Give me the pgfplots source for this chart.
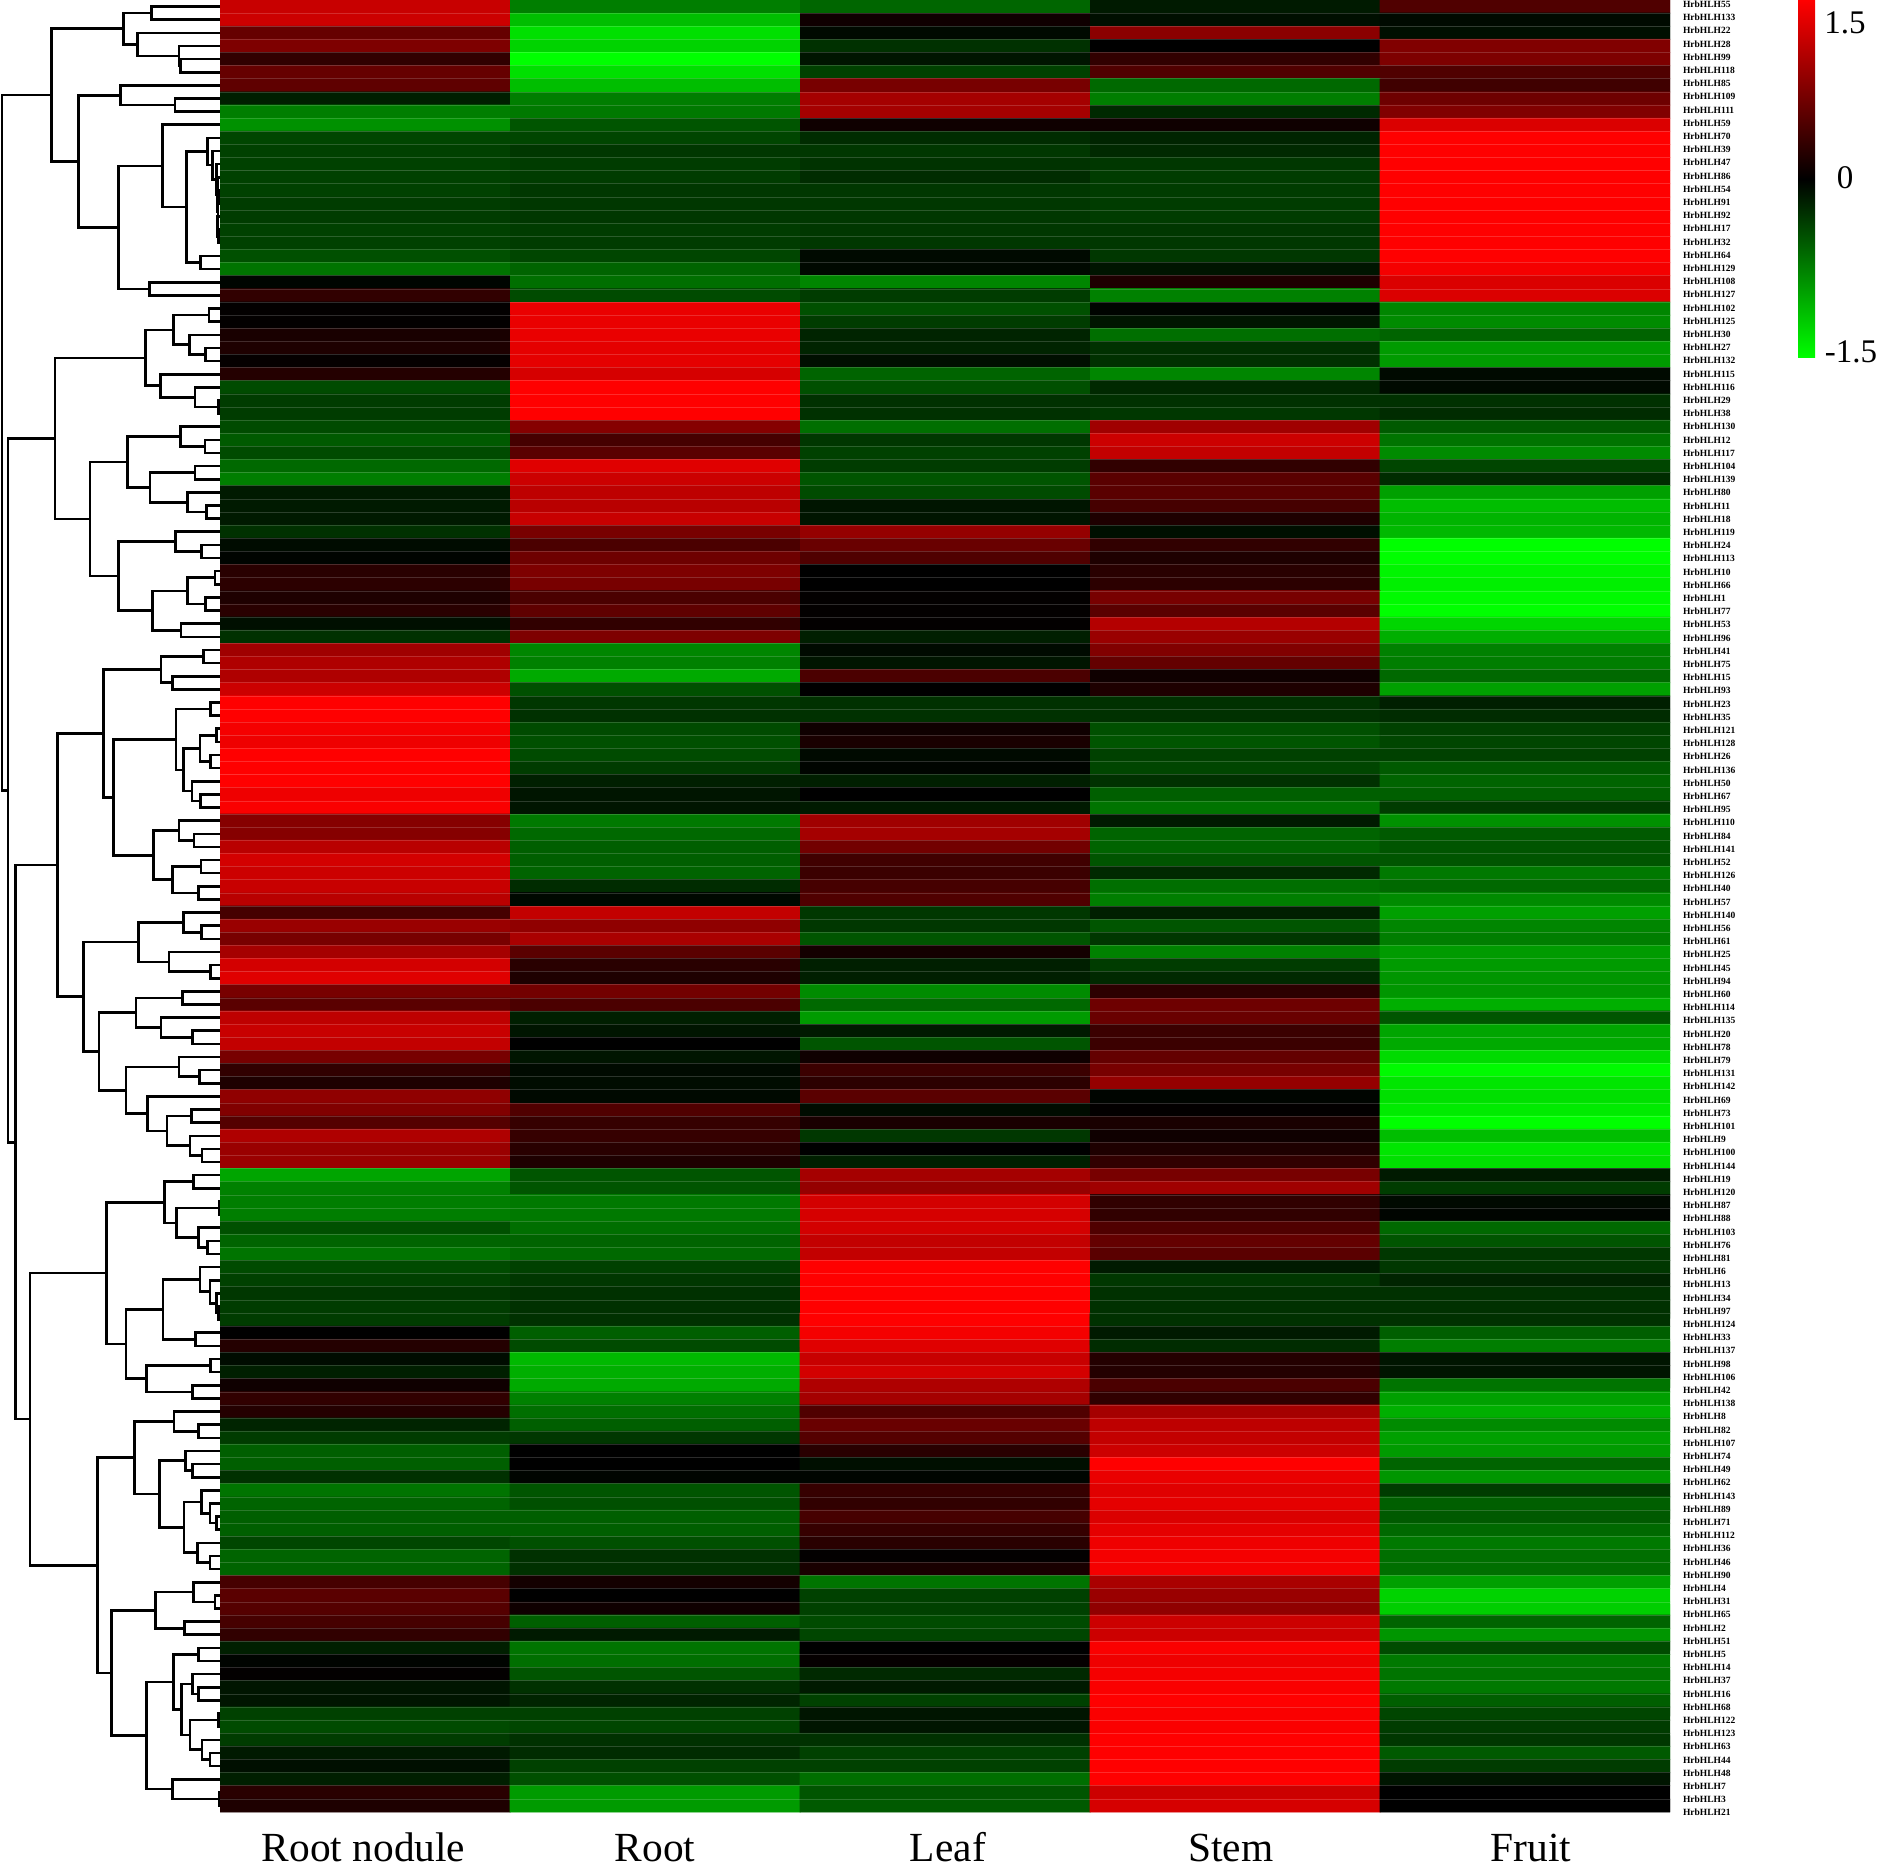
\documentclass[border=0pt]{standalone}
\usepackage{fontspec}
\setmainfont{Liberation Serif}
\usepackage{pgfplots}
\pgfplotsset{compat=1.18}

\begin{document}
\begin{tikzpicture}
% 1 px of the reference = 0.5pt
\useasboundingbox (0pt,0pt) rectangle (939.5pt,932.5pt);

% heat map, values row by row (Root nodule, Root, Leaf, Stem, Fruit)
\begin{axis}[
  at={(110pt,26.5pt)}, anchor=south west,
  scale only axis, width=725pt, height=906pt,
  xmin=-0.5, xmax=4.5, ymin=-0.5, ymax=137.5, y dir=reverse,
  colormap={redgreen}{rgb255=(0,255,0) rgb255=(0,0,0) rgb255=(255,0,0)},
  point meta min=-1.5, point meta max=1.5,
  axis on top, axis line style={draw=none},
  tick style={draw=none}, major tick length=0pt, minor tick length=0pt,
  xtick={-0.005,1.0,2.01,2.986,4.02},
  xticklabels={Root nodule,Root,Leaf,Stem,Fruit},
  xticklabel pos=lower,
  xticklabel style={font=\fontsize{20.7}{21}\selectfont, anchor=base, inner sep=0pt, yshift=-24.5pt},
  ytick={0,...,137}, yticklabels={},
  minor y tick num=1, yminorgrids,
  minor grid style={white, opacity=0.17, line width=0.35pt},
  colorbar,
  colorbar style={
    at={(1.0883,1)}, anchor=north west,
    width=8.5pt, height=179pt, y dir=normal,
    axis line style={draw=none}, tick style={draw=none},
    major tick length=0pt,
    minor y tick num=0, yminorgrids=false,
    ytick={1.31,0.0084,-1.45}, yticklabels={1.5,0,\hspace*{6pt}-1.5},
    yticklabel pos=right,
    yticklabel style={font=\fontsize{16.5}{17}\selectfont, anchor=center, inner sep=0pt, xshift=15pt},
  },
]
\addplot [matrix plot*, mesh/cols=5, point meta=explicit]
  table [row sep=\\, x expr={mod(\coordindex,5)}, y expr={floor((\coordindex+0.5)/5)}, meta=v] {
v\\
1.18\\-.74\\-.6\\-.15\\.47\\
1.2\\-1.12\\.09\\-.09\\-.06\\
.6\\-1.32\\-.06\\.82\\-.09\\
.74\\-1.24\\-.29\\0\\.76\\
.29\\-1.5\\-.12\\.29\\.74\\
.6\\-1.32\\-.38\\.47\\.47\\
.56\\-1.12\\.71\\-.62\\.38\\
-.18\\-.74\\.97\\-.74\\.65\\
-.74\\-.71\\.97\\-.24\\.76\\
-.85\\-.5\\.09\\.09\\1.29\\
-.41\\-.41\\-.26\\-.21\\1.5\\
-.38\\-.32\\-.32\\-.24\\1.5\\
-.38\\-.35\\-.3\\-.32\\1.5\\
-.38\\-.35\\-.26\\-.35\\1.5\\
-.38\\-.32\\-.32\\-.35\\1.5\\
-.35\\-.32\\-.32\\-.35\\1.5\\
-.35\\-.32\\-.32\\-.35\\1.5\\
-.38\\-.35\\-.32\\-.32\\1.5\\
-.38\\-.35\\-.32\\-.32\\1.5\\
-.47\\-.41\\-.06\\-.32\\1.5\\
-.68\\-.59\\-.05\\-.12\\1.44\\
-.03\\-.65\\-.79\\.18\\1.29\\
.29\\-.44\\-.35\\-.76\\1.29\\
.02\\1.38\\-.47\\-.02\\-.79\\
.02\\1.38\\-.35\\-.12\\-.82\\
.15\\1.38\\-.21\\-.65\\-.59\\
.18\\1.35\\-.21\\-.29\\-.91\\
.03\\1.35\\-.09\\-.29\\-.91\\
.21\\1.26\\-.59\\-.79\\-.06\\
-.44\\1.5\\-.47\\-.24\\-.06\\
-.35\\1.5\\-.29\\-.29\\-.29\\
-.35\\1.5\\-.29\\-.32\\-.26\\
-.44\\.79\\-.65\\.94\\-.53\\
-.53\\.41\\-.32\\1.2\\-.68\\
-.44\\.53\\-.38\\1.15\\-.82\\
-.62\\1.32\\-.35\\.29\\-.41\\
-.74\\1.2\\-.5\\.53\\-.26\\
-.15\\1.12\\-.44\\.53\\-.94\\
-.15\\1.09\\-.12\\.41\\-1.12\\
-.15\\1.18\\-.12\\.18\\-1.06\\
-.29\\.71\\.88\\-.09\\-1.09\\
-.07\\.44\\.62\\.29\\-1.5\\
-.02\\.65\\.47\\.18\\-1.5\\
.24\\.74\\0\\.24\\-1.44\\
.26\\.71\\0\\.26\\-1.41\\
.18\\.44\\.02\\.71\\-1.47\\
.24\\.56\\.02\\.53\\-1.5\\
-.09\\.29\\.02\\1.06\\-1.26\\
-.29\\.74\\-.18\\.91\\-1.03\\
.94\\-.79\\-.06\\.76\\-.76\\
1.03\\-.76\\-.12\\.59\\-.74\\
1.03\\-1\\.44\\.09\\-.62\\
1.2\\-.47\\0\\.18\\-.94\\
1.5\\-.32\\-.29\\-.29\\-.18\\
1.5\\-.29\\-.29\\-.29\\-.26\\
1.44\\-.44\\.09\\-.47\\-.38\\
1.41\\-.47\\.15\\-.5\\-.41\\
1.5\\-.44\\-.06\\-.38\\-.38\\
1.5\\-.35\\-.03\\-.41\\-.53\\
1.5\\-.18\\-.18\\-.29\\-.59\\
1.41\\-.12\\0\\-.56\\-.56\\
1.47\\-.12\\-.15\\-.68\\-.35\\
.79\\-.71\\.94\\-.15\\-.85\\
.79\\-.62\\.97\\-.59\\-.53\\
1.09\\-.56\\.68\\-.59\\-.5\\
1.24\\-.56\\.38\\-.5\\-.5\\
1.2\\-.59\\.35\\-.24\\-.71\\
1.18\\-.26\\.41\\-.65\\-.62\\
1.09\\-.05\\.47\\-.74\\-.82\\
.41\\1.15\\-.32\\-.18\\-.94\\
.91\\.85\\-.32\\-.5\\-.79\\
.71\\1\\-.5\\-.32\\-.74\\
.97\\.53\\.12\\-.76\\-.91\\
1.24\\.24\\-.18\\-.35\\-.91\\
1.32\\.18\\-.18\\-.24\\-.88\\
.71\\.68\\-.82\\.26\\-.88\\
.53\\.44\\-.62\\.65\\-1.03\\
1.12\\-.18\\-.91\\.62\\-.5\\
1.18\\-.12\\-.15\\.35\\-.97\\
1.15\\0\\-.5\\.35\\-1\\
.71\\-.12\\.09\\.59\\-1.29\\
.29\\-.06\\.35\\.71\\-1.47\\
.18\\-.07\\.26\\.88\\-1.35\\
.85\\-.05\\.53\\-.03\\-1.32\\
.76\\.47\\-.07\\.02\\-1.38\\
.5\\.32\\.15\\.15\\-1.5\\
1.03\\.32\\-.32\\.09\\-1.12\\
.91\\.24\\0\\.18\\-1.35\\
.91\\.18\\-.18\\.29\\-1.32\\
-.97\\-.5\\.97\\.71\\-.15\\
-.76\\-.5\\.88\\.94\\-.35\\
-.74\\-.71\\1.24\\.29\\-.06\\
-.74\\-.71\\1.26\\.29\\-.03\\
-.47\\-.65\\1.24\\.47\\-.62\\
-.59\\-.59\\1.15\\.59\\-.5\\
-.68\\-.62\\1.15\\.53\\-.32\\
-.44\\-.38\\1.5\\-.15\\-.32\\
-.38\\-.32\\1.5\\-.32\\-.21\\
-.32\\-.29\\1.5\\-.29\\-.29\\
-.35\\-.29\\1.5\\-.29\\-.29\\
-.35\\-.29\\1.5\\-.29\\-.29\\
0\\-.56\\1.44\\-.15\\-.56\\
.21\\-.44\\1.32\\-.26\\-.74\\
-.07\\-1.09\\1.18\\.21\\-.12\\
-.18\\-1.03\\1.24\\.21\\-.12\\
.09\\-1\\1.03\\.44\\-.68\\
.29\\-.76\\.97\\.29\\-.94\\
.21\\-.65\\.47\\.97\\-1.03\\
-.21\\-.56\\.62\\1.12\\-.82\\
-.35\\-.32\\.5\\1.15\\-.94\\
-.56\\0\\.24\\1.2\\-.91\\
-.56\\0\\-.09\\1.5\\-.59\\
-.29\\-.03\\-.03\\1.38\\-.88\\
-.68\\-.5\\.32\\1.32\\-.35\\
-.59\\-.47\\.29\\1.35\\-.56\\
-.56\\-.56\\.41\\1.29\\-.53\\
-.56\\-.56\\.32\\1.35\\-.62\\
-.41\\-.47\\.24\\1.41\\-.71\\
-.59\\-.29\\.02\\1.44\\-.65\\
-.59\\-.29\\.15\\1.44\\-.65\\
.41\\.12\\-.68\\1\\-.94\\
.53\\0\\-.38\\.91\\-1.24\\
.5\\.09\\-.38\\.85\\-1.21\\
.41\\-.56\\-.44\\1.2\\-.59\\
.29\\-.15\\-.41\\1.2\\-.88\\
-.18\\-.68\\0\\1.47\\-.44\\
-.02\\-.65\\.03\\1.41\\-.71\\
.02\\-.5\\-.24\\1.44\\-.68\\
-.12\\-.29\\-.15\\1.47\\-.71\\
-.12\\-.21\\-.38\\1.5\\-.56\\
-.38\\-.38\\-.12\\1.47\\-.41\\
-.44\\-.41\\-.12\\1.47\\-.35\\
-.35\\-.29\\-.29\\1.5\\-.32\\
-.15\\-.26\\-.38\\1.5\\-.53\\
-.09\\-.38\\-.38\\1.5\\-.35\\
-.18\\-.47\\-.65\\1.5\\-.12\\
.24\\-.91\\-.5\\1.2\\0\\
.18\\-.91\\-.53\\1.26\\0\\
};
\end{axis}

% gene names: their spacing in the reference is a little wider than the rows
\begin{axis}[
  at={(110pt,26.15pt)}, anchor=south west,
  scale only axis, width=725pt, height=904.2pt,
  xmin=0, xmax=1, ymin=0, ymax=137, y dir=reverse,
  axis line style={draw=none}, tick style={draw=none},
  major tick length=0pt, xtick=\empty,
  ytick={0,...,137}, yticklabel pos=right,
  yticklabel style={font=\fontsize{4.75}{6}\selectfont\bfseries, anchor=west, inner sep=0pt, xshift=6.3pt},
  yticklabels={HrbHLH55,HrbHLH133,HrbHLH22,HrbHLH28,HrbHLH99,HrbHLH118,HrbHLH85,HrbHLH109,HrbHLH111,HrbHLH59,HrbHLH70,HrbHLH39,HrbHLH47,HrbHLH86,HrbHLH54,HrbHLH91,HrbHLH92,HrbHLH17,HrbHLH32,HrbHLH64,HrbHLH129,HrbHLH108,HrbHLH127,HrbHLH102,HrbHLH125,HrbHLH30,HrbHLH27,HrbHLH132,HrbHLH115,HrbHLH116,HrbHLH29,HrbHLH38,HrbHLH130,HrbHLH12,HrbHLH117,
  HrbHLH104,HrbHLH139,HrbHLH80,HrbHLH11,HrbHLH18,HrbHLH119,HrbHLH24,HrbHLH113,HrbHLH10,HrbHLH66,HrbHLH1,HrbHLH77,HrbHLH53,HrbHLH96,HrbHLH41,HrbHLH75,HrbHLH15,HrbHLH93,HrbHLH23,HrbHLH35,HrbHLH121,HrbHLH128,HrbHLH26,HrbHLH136,HrbHLH50,HrbHLH67,HrbHLH95,HrbHLH110,HrbHLH84,HrbHLH141,HrbHLH52,HrbHLH126,HrbHLH40,HrbHLH57,HrbHLH140,
  HrbHLH56,HrbHLH61,HrbHLH25,HrbHLH45,HrbHLH94,HrbHLH60,HrbHLH114,HrbHLH135,HrbHLH20,HrbHLH78,HrbHLH79,HrbHLH131,HrbHLH142,HrbHLH69,HrbHLH73,HrbHLH101,HrbHLH9,HrbHLH100,HrbHLH144,HrbHLH19,HrbHLH120,HrbHLH87,HrbHLH88,HrbHLH103,HrbHLH76,HrbHLH81,HrbHLH6,HrbHLH13,HrbHLH34,HrbHLH97,HrbHLH124,HrbHLH33,HrbHLH137,HrbHLH98,HrbHLH106,
  HrbHLH42,HrbHLH138,HrbHLH8,HrbHLH82,HrbHLH107,HrbHLH74,HrbHLH49,HrbHLH62,HrbHLH143,HrbHLH89,HrbHLH71,HrbHLH112,HrbHLH36,HrbHLH46,HrbHLH90,HrbHLH4,HrbHLH31,HrbHLH65,HrbHLH2,HrbHLH51,HrbHLH5,HrbHLH14,HrbHLH37,HrbHLH16,HrbHLH68,HrbHLH122,HrbHLH123,HrbHLH63,HrbHLH44,HrbHLH48,HrbHLH7,HrbHLH3,HrbHLH21},
]
\end{axis}

% dendrogram, x in reference pixels, y in row numbers
\begin{axis}[
  at={(0pt,26.5pt)}, anchor=south west,
  scale only axis, width=110pt, height=906pt,
  xmin=0, xmax=220, ymin=-0.5, ymax=137.5, y dir=reverse,
  hide axis, clip=false, unbounded coords=jump,
]
\addplot [black, line width=1.3pt, no markers] coordinates {
(220,0)(151.7,0)(151.7,1)(220,1)(nan,nan)
(220,4)(180.3,4)(180.3,5)(220,5)(nan,nan)
(220,3)(179,3)(179,4.5)(180.3,4.5)(nan,nan)
(220,2)(137.3,2)(137.3,3.75)(179,3.75)(nan,nan)
(151.7,.5)(123.3,.5)(123.3,2.875)(137.3,2.875)(nan,nan)
(220,7)(175,7)(175,8)(220,8)(nan,nan)
(220,6)(120.7,6)(120.7,7.5)(175,7.5)(nan,nan)
(220,21)(149.3,21)(149.3,22)(220,22)(nan,nan)
(220,19)(200.7,19)(200.7,20)(220,20)(nan,nan)
(220,17)(218.7,17)(218.7,18)(220,18)(nan,nan)
(220,16)(217.7,16)(217.7,17.5)(218.7,17.5)(nan,nan)
(220,14)(218.3,14)(218.3,15)(220,15)(nan,nan)
(218.3,14.5)(218,14.5)(218,16.75)(217.7,16.75)(nan,nan)
(220,13)(217.3,13)(217.3,15.625)(218,15.625)(nan,nan)
(220,12)(216.7,12)(216.7,14.31)(217.3,14.31)(nan,nan)
(220,11)(212.3,11)(212.3,13.16)(216.7,13.16)(nan,nan)
(220,10)(207.3,10)(207.3,12.08)(212.3,12.08)(nan,nan)
(207.3,11.04)(186.7,11.04)(186.7,19.5)(200.7,19.5)(nan,nan)
(220,9)(162.7,9)(162.7,15.27)(186.7,15.27)(nan,nan)
(162.7,12.14)(118.3,12.14)(118.3,21.5)(149.3,21.5)(nan,nan)
(120.7,6.75)(78.3,6.75)(78.3,16.82)(118.3,16.82)(nan,nan)
(123.3,1.69)(51.7,1.69)(51.7,11.78)(78.3,11.78)(nan,nan)
(220,23)(209,23)(209,24)(220,24)(nan,nan)
(220,26)(205.7,26)(205.7,27)(220,27)(nan,nan)
(220,25)(189.3,25)(189.3,26.5)(205.7,26.5)(nan,nan)
(209,23.5)(173.3,23.5)(173.3,25.75)(189.3,25.75)(nan,nan)
(220,30)(218.3,30)(218.3,31)(220,31)(nan,nan)
(220,29)(195,29)(195,30.5)(218.3,30.5)(nan,nan)
(220,28)(160.3,28)(160.3,29.75)(195,29.75)(nan,nan)
(173.3,24.63)(145.7,24.63)(145.7,28.88)(160.3,28.88)(nan,nan)
(220,33)(205,33)(205,34)(220,34)(nan,nan)
(220,32)(180.3,32)(180.3,33.5)(205,33.5)(nan,nan)
(220,35)(195,35)(195,36)(220,36)(nan,nan)
(220,38)(206.7,38)(206.7,39)(220,39)(nan,nan)
(220,37)(187.3,37)(187.3,38.5)(206.7,38.5)(nan,nan)
(195,35.5)(150,35.5)(150,37.75)(187.3,37.75)(nan,nan)
(180.3,32.75)(127.3,32.75)(127.3,36.63)(150,36.63)(nan,nan)
(220,41)(201.7,41)(201.7,42)(220,42)(nan,nan)
(220,40)(175.7,40)(175.7,41.5)(201.7,41.5)(nan,nan)
(220,43)(215,43)(215,44)(220,44)(nan,nan)
(220,45)(205.7,45)(205.7,46)(220,46)(nan,nan)
(215,43.5)(187.7,43.5)(187.7,45.5)(205.7,45.5)(nan,nan)
(220,47)(181,47)(181,48)(220,48)(nan,nan)
(187.7,44.5)(152.3,44.5)(152.3,47.5)(181,47.5)(nan,nan)
(175.7,40.75)(118.3,40.75)(118.3,46)(152.3,46)(nan,nan)
(127.3,34.69)(90,34.69)(90,43.38)(118.3,43.38)(nan,nan)
(145.7,26.75)(55,26.75)(55,39.03)(90,39.03)(nan,nan)
(220,49)(203.3,49)(203.3,50)(220,50)(nan,nan)
(220,51)(172.3,51)(172.3,52)(220,52)(nan,nan)
(203.3,49.5)(161,49.5)(161,51.5)(172.3,51.5)(nan,nan)
(220,53)(210.7,53)(210.7,54)(220,54)(nan,nan)
(220,55)(216.7,55)(216.7,56)(220,56)(nan,nan)
(220,57)(210.7,57)(210.7,58)(220,58)(nan,nan)
(216.7,55.5)(200,55.5)(200,57.5)(210.7,57.5)(nan,nan)
(220,60)(200.7,60)(200.7,61)(220,61)(nan,nan)
(220,59)(192,59)(192,60.5)(200.7,60.5)(nan,nan)
(200,56.5)(183.3,56.5)(183.3,59.75)(192,59.75)(nan,nan)
(210.7,53.5)(176,53.5)(176,58.13)(183.3,58.13)(nan,nan)
(220,63)(194,63)(194,64)(220,64)(nan,nan)
(220,62)(179,62)(179,63.5)(194,63.5)(nan,nan)
(220,65)(201,65)(201,66)(220,66)(nan,nan)
(220,67)(198.3,67)(198.3,68)(220,68)(nan,nan)
(201,65.5)(172.3,65.5)(172.3,67.5)(198.3,67.5)(nan,nan)
(179,62.75)(153.7,62.75)(153.7,66.5)(172.3,66.5)(nan,nan)
(176,55.81)(113.3,55.81)(113.3,64.63)(153.7,64.63)(nan,nan)
(161,50.5)(103.3,50.5)(103.3,60.22)(113.3,60.22)(nan,nan)
(220,70)(201.7,70)(201.7,71)(220,71)(nan,nan)
(220,69)(183.3,69)(183.3,70.5)(201.7,70.5)(nan,nan)
(220,73)(210.7,73)(210.7,74)(220,74)(nan,nan)
(220,72)(169,72)(169,73.5)(210.7,73.5)(nan,nan)
(183.3,69.75)(138.3,69.75)(138.3,72.75)(169,72.75)(nan,nan)
(220,75)(182.7,75)(182.7,76)(220,76)(nan,nan)
(220,78)(192.7,78)(192.7,79)(220,79)(nan,nan)
(220,77)(161,77)(161,78.5)(192.7,78.5)(nan,nan)
(182.7,75.5)(136,75.5)(136,77.75)(161,77.75)(nan,nan)
(220,81)(199.3,81)(199.3,82)(220,82)(nan,nan)
(220,80)(179,80)(179,81.5)(199.3,81.5)(nan,nan)
(220,84)(191.7,84)(191.7,85)(220,85)(nan,nan)
(220,87)(202,87)(202,88)(220,88)(nan,nan)
(220,86)(190,86)(190,87.5)(202,87.5)(nan,nan)
(191.7,84.5)(167,84.5)(167,86.75)(190,86.75)(nan,nan)
(220,83)(147.3,83)(147.3,85.63)(167,85.63)(nan,nan)
(179,80.75)(126,80.75)(126,84.31)(147.3,84.31)(nan,nan)
(136,76.63)(99,76.63)(99,82.53)(126,82.53)(nan,nan)
(138.3,71.25)(83.3,71.25)(83.3,79.58)(99,79.58)(nan,nan)
(103.3,55.36)(57.7,55.36)(57.7,75.41)(83.3,75.41)(nan,nan)
(220,89)(193.3,89)(193.3,90)(220,90)(nan,nan)
(220,91)(219,91)(219,92)(220,92)(nan,nan)
(220,94)(207.3,94)(207.3,95)(220,95)(nan,nan)
(220,93)(198.3,93)(198.3,94.5)(207.3,94.5)(nan,nan)
(219,91.5)(176.7,91.5)(176.7,93.75)(198.3,93.75)(nan,nan)
(193.3,89.5)(164.3,89.5)(164.3,92.63)(176.7,92.63)(nan,nan)
(220,99)(218.3,99)(218.3,100)(220,100)(nan,nan)
(220,98)(216.7,98)(216.7,99.5)(218.3,99.5)(nan,nan)
(220,97)(210,97)(210,98.75)(216.7,98.75)(nan,nan)
(220,96)(200,96)(200,97.88)(210,97.88)(nan,nan)
(220,101)(195.7,101)(195.7,102)(220,102)(nan,nan)
(200,96.94)(163,96.94)(163,101.5)(195.7,101.5)(nan,nan)
(220,103)(210.7,103)(210.7,104)(220,104)(nan,nan)
(220,105)(192.3,105)(192.3,106)(220,106)(nan,nan)
(210.7,103.5)(146.7,103.5)(146.7,105.5)(192.3,105.5)(nan,nan)
(163,99.22)(126,99.22)(126,104.5)(146.7,104.5)(nan,nan)
(164.3,91.06)(106.7,91.06)(106.7,101.86)(126,101.86)(nan,nan)
(220,108)(198.3,108)(198.3,109)(220,109)(nan,nan)
(220,107)(174,107)(174,108.5)(198.3,108.5)(nan,nan)
(220,111)(192.3,111)(192.3,112)(220,112)(nan,nan)
(220,110)(185.7,110)(185.7,111.5)(192.3,111.5)(nan,nan)
(220,115)(216.7,115)(216.7,116)(220,116)(nan,nan)
(220,114)(210,114)(210,115.5)(216.7,115.5)(nan,nan)
(220,113)(201.7,113)(201.7,114.75)(210,114.75)(nan,nan)
(220,118)(210,118)(210,119)(220,119)(nan,nan)
(220,117)(197.3,117)(197.3,118.5)(210,118.5)(nan,nan)
(201.7,113.88)(184,113.88)(184,117.75)(197.3,117.75)(nan,nan)
(185.7,110.75)(159.3,110.75)(159.3,115.81)(184,115.81)(nan,nan)
(174,107.75)(134.3,107.75)(134.3,113.28)(159.3,113.28)(nan,nan)
(220,121)(215,121)(215,122)(220,122)(nan,nan)
(220,120)(193.3,120)(193.3,121.5)(215,121.5)(nan,nan)
(220,123)(184.3,123)(184.3,124)(220,124)(nan,nan)
(193.3,120.75)(155.7,120.75)(155.7,123.5)(184.3,123.5)(nan,nan)
(220,125)(198.3,125)(198.3,126)(220,126)(nan,nan)
(220,128)(198.3,128)(198.3,129)(220,129)(nan,nan)
(220,127)(192.3,127)(192.3,128.5)(198.3,128.5)(nan,nan)
(220,130)(218.3,130)(218.3,131)(220,131)(nan,nan)
(220,133)(210,133)(210,134)(220,134)(nan,nan)
(220,132)(202,132)(202,133.5)(210,133.5)(nan,nan)
(218.3,130.5)(190,130.5)(190,132.75)(202,132.75)(nan,nan)
(192.3,127.75)(181.7,127.75)(181.7,131.63)(190,131.63)(nan,nan)
(198.3,125.5)(173.7,125.5)(173.7,129.69)(181.7,129.69)(nan,nan)
(220,136)(219,136)(219,137)(220,137)(nan,nan)
(220,135)(172.3,135)(172.3,136.5)(219,136.5)(nan,nan)
(173.7,127.6)(146.7,127.6)(146.7,135.75)(172.3,135.75)(nan,nan)
(155.7,122.13)(111.7,122.13)(111.7,131.67)(146.7,131.67)(nan,nan)
(134.3,110.52)(97.7,110.52)(97.7,126.9)(111.7,126.9)(nan,nan)
(106.7,96.46)(30,96.46)(30,118.71)(97.7,118.71)(nan,nan)
(57.7,65.39)(15.7,65.39)(15.7,107.58)(30,107.58)(nan,nan)
(55,32.89)(8,32.89)(8,86.49)(15.7,86.49)(nan,nan)
(51.7,6.74)(2,6.74)(2,59.69)(8,59.69)
};
\end{axis}
\end{tikzpicture}
\end{document}
